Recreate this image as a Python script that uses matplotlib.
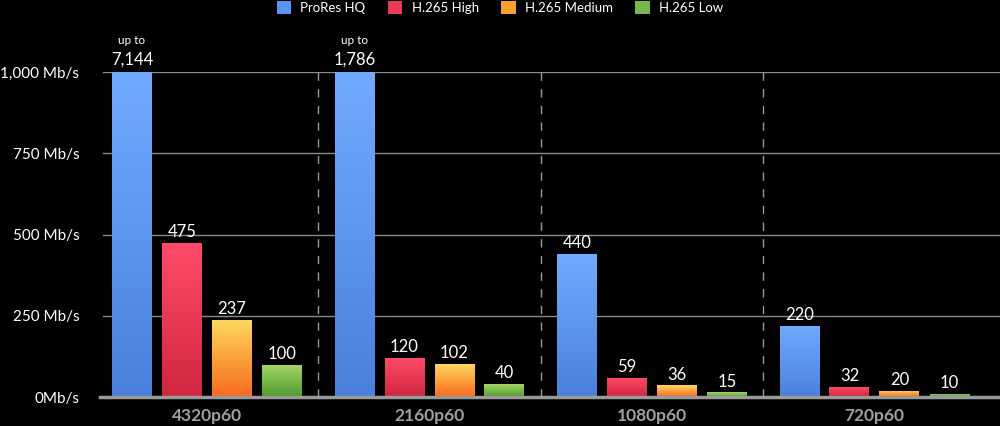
import matplotlib
matplotlib.use("Agg")
import matplotlib.pyplot as plt
import numpy as np
from matplotlib.colors import LinearSegmentedColormap
from matplotlib.patches import Patch

categories = ["4320p60", "2160p60", "1080p60", "720p60"]
series = ["ProRes HQ", "H.265 High", "H.265 Medium", "H.265 Low"]
prores_hq = [7144, 1786, 440, 220]
h265_high = [475, 120, 59, 32]
h265_medium = [237, 102, 36, 20]
h265_low = [100, 40, 15, 10]
y_ticks = [0, 250, 500, 750, 1000]
y_tick_labels = ["0Mb/s", "250 Mb/s", "500 Mb/s", "750 Mb/s", "1,000 Mb/s"]
y_cap = 1000

values = [prores_hq, h265_high, h265_medium, h265_low]
grad = [("#4a80dc", "#72aaff"), ("#d0263f", "#ff4b69"),
        ("#f76a1e", "#ffd95e"), ("#4d9a2d", "#a5d667")]
solid = ["#5b94f0", "#ea3a55", "#f9a030", "#78b848"]

plt.rcParams['font.family'] = ['Lato', 'DejaVu Sans']
fig = plt.figure(figsize=(10, 4.26), dpi=100, facecolor="black")
ax = fig.add_axes([0.100, 1 - 397/426, 0.900, (397 - 72)/426])
ax.set_facecolor("black")

step = 50/222.5
width = 40/222.5
x = np.arange(len(categories))
ax.set_xlim(-(207-100)/222.5, (1000-207)/222.5)
ax.set_ylim(0, y_cap)

# gridlines
for t in y_ticks[1:]:
    ax.axhline(t, xmin=3/900, xmax=1, color="#8a8a8a", lw=1, zorder=0)
ax.axhline(0, color="#9a9a9a", lw=2.5, zorder=5, clip_on=False)
for s in [0.5, 1.5, 2.5]:
    ax.axvline(s, ymin=0, ymax=1, color="#9a9a9a", lw=1, ls=(0, (6, 6)), zorder=0)

for j, (vals, (c0, c1)) in enumerate(zip(values, grad)):
    cmap = LinearSegmentedColormap.from_list(f"g{j}", [c0, c1])
    for i, v in enumerate(vals):
        h = min(v, y_cap)
        xc = x[i] + (j - 1.5) * step
        bar = ax.bar(xc, h, width=width, color="none", zorder=2)[0]
        img = ax.imshow(np.linspace(0, 1, 100).reshape(-1, 1), cmap=cmap,
                        extent=[xc - width/2, xc + width/2, 0, h],
                        origin="lower", aspect="auto", zorder=2)
        img.set_clip_path(bar)
        if v > y_cap:
            ax.text(xc, h + 12, f"{v:,}", ha="center", va="bottom",
                    color="white", fontsize=12, clip_on=False)
            ax.text(xc, h + 79, "up to", ha="center", va="bottom",
                    color="white", fontsize=8.5, clip_on=False)
        else:
            ax.text(xc, h + 8, f"{v:,}", ha="center", va="bottom",
                    color="white", fontsize=12)

ax.set_xticks(x)
ax.set_xticklabels(categories, color="#a0a0a0", fontsize=12.5, fontweight="bold")
ax.set_yticks(y_ticks)
ax.set_yticklabels(y_tick_labels, color="white", fontsize=11)
ax.tick_params(axis="both", length=0)
ax.tick_params(axis="x", pad=8)
ax.tick_params(axis="y", pad=15)
for sp in ax.spines.values():
    sp.set_visible(False)

handles = [Patch(facecolor=c, edgecolor="none") for c in solid]
fig.legend(handles, series, loc="upper center", bbox_to_anchor=(0.5, 1.025),
           ncol=4, frameon=False, fontsize=9.5, labelcolor="white",
           handlelength=1.1, handleheight=1.1, handletextpad=0.7, columnspacing=1.7)

fig.savefig("out.png", dpi=100, facecolor="black")
